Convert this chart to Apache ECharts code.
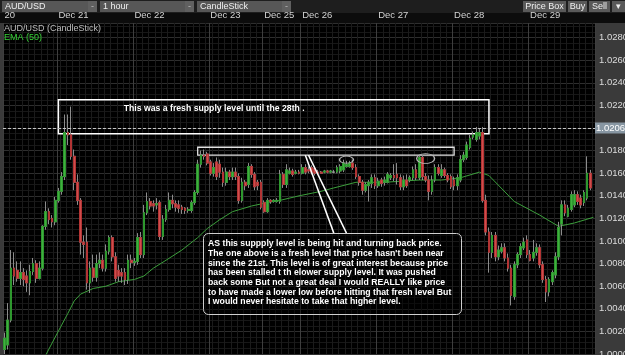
<!DOCTYPE html>
<html><head><meta charset="utf-8">
<script src="https://cdn.jsdelivr.net/npm/echarts/dist/echarts.min.js"></script>
<style>html,body{margin:0;padding:0;background:#3a3a3a;}#c{width:625px;height:355px;}</style>
</head><body><div id="c"></div>
<script>
// ---- categories (hourly candles, grouped by trading day) ----
const dayNames = ['20', 'Dec 21', 'Dec 22', 'Dec 23', 'Dec 25', 'Dec 26', 'Dec 27', 'Dec 28', 'Dec 29'];
const candlesPerDay = [17, 24, 24, 17, 12, 24, 24, 24, 21];

// ---- AUD/USD hourly OHLC ----
const opens = [
1.0004,1.0008,1.0030,1.0076,1.0074,1.0067,1.0072,1.0069,1.0063,1.0073,
1.0080,1.0067,1.0076,1.0113,1.0126,1.0120,1.0117,1.0136,1.0144,1.0157,
1.0196,1.0194,1.0175,1.0152,1.0136,1.0099,1.0099,1.0063,1.0076,1.0068,
1.0080,1.0083,1.0076,1.0091,1.0103,1.0086,1.0074,1.0072,1.0072,1.0066,
1.0083,1.0081,1.0082,1.0103,1.0088,1.0125,1.0135,1.0133,1.0132,1.0134,
1.0104,1.0119,1.0128,1.0136,1.0133,1.0132,1.0130,1.0129,1.0127,1.0127,
1.0134,1.0143,1.0168,1.0176,1.0177,1.0170,1.0160,1.0170,1.0168,1.0161,
1.0152,1.0161,1.0157,1.0161,1.0157,1.0136,1.0152,1.0150,1.0166,1.0159,
1.0152,1.0152,1.0134,1.0126,1.0136,1.0135,1.0135,1.0135,1.0159,1.0150,
1.0160,1.0162,1.0160,1.0161,1.0160,1.0165,1.0163,1.0165,1.0164,1.0161,
1.0161,1.0161,1.0162,1.0161,1.0161,1.0161,1.0162,1.0163,1.0166,1.0166,
1.0169,1.0165,1.0157,1.0152,1.0145,1.0149,1.0151,1.0156,1.0149,1.0154,
1.0152,1.0152,1.0156,1.0158,1.0159,1.0156,1.0148,1.0154,1.0154,1.0156,
1.0163,1.0156,1.0174,1.0157,1.0154,1.0144,1.0154,1.0165,1.0158,1.0163,
1.0158,1.0157,1.0154,1.0149,1.0154,1.0172,1.0174,1.0183,1.0192,1.0190,
1.0193,1.0196,1.0136,1.0108,1.0090,1.0105,1.0086,1.0091,1.0094,1.0085,
1.0076,1.0051,1.0079,1.0088,1.0094,1.0101,1.0088,1.0085,1.0090,1.0094,
1.0079,1.0066,1.0055,1.0064,1.0070,1.0086,1.0115,1.0132,1.0122,1.0128,
1.0132,1.0141,1.0138,1.0134,1.0138,1.0160];
const closes = [
1.0014,1.0030,1.0076,1.0069,1.0067,1.0072,1.0066,1.0063,1.0073,1.0080,
1.0067,1.0076,1.0113,1.0126,1.0119,1.0117,1.0136,1.0144,1.0157,1.0196,
1.0194,1.0175,1.0152,1.0136,1.0099,1.0097,1.0063,1.0076,1.0068,1.0080,
1.0083,1.0076,1.0091,1.0103,1.0086,1.0067,1.0069,1.0069,1.0066,1.0083,
1.0081,1.0082,1.0103,1.0088,1.0125,1.0135,1.0131,1.0131,1.0133,1.0104,
1.0119,1.0128,1.0136,1.0133,1.0130,1.0129,1.0128,1.0127,1.0128,1.0134,
1.0143,1.0168,1.0176,1.0175,1.0169,1.0160,1.0165,1.0157,1.0161,1.0152,
1.0161,1.0157,1.0161,1.0157,1.0136,1.0152,1.0149,1.0166,1.0159,1.0148,
1.0149,1.0130,1.0126,1.0136,1.0135,1.0136,1.0136,1.0159,1.0150,1.0163,
1.0162,1.0159,1.0161,1.0160,1.0165,1.0161,1.0162,1.0161,1.0160,1.0160,
1.0160,1.0162,1.0161,1.0162,1.0161,1.0165,1.0166,1.0169,1.0168,1.0169,
1.0165,1.0157,1.0152,1.0145,1.0150,1.0152,1.0156,1.0149,1.0153,1.0151,
1.0154,1.0159,1.0158,1.0156,1.0156,1.0148,1.0154,1.0149,1.0156,1.0163,
1.0156,1.0174,1.0157,1.0154,1.0144,1.0154,1.0165,1.0160,1.0163,1.0158,
1.0154,1.0148,1.0149,1.0156,1.0172,1.0176,1.0185,1.0191,1.0194,1.0196,
1.0196,1.0136,1.0108,1.0090,1.0105,1.0086,1.0092,1.0094,1.0085,1.0076,
1.0052,1.0079,1.0088,1.0095,1.0099,1.0088,1.0083,1.0090,1.0094,1.0079,
1.0066,1.0055,1.0066,1.0072,1.0086,1.0112,1.0132,1.0125,1.0129,1.0141,
1.0141,1.0135,1.0132,1.0143,1.0160,1.0147];
const lows = [
1.0000,1.0004,1.0028,1.0061,1.0064,1.0061,1.0060,1.0055,1.0052,1.0070,
1.0063,1.0066,1.0074,1.0110,1.0115,1.0112,1.0114,1.0134,1.0141,1.0154,
1.0185,1.0172,1.0145,1.0132,1.0088,1.0085,1.0057,1.0054,1.0064,1.0064,
1.0076,1.0073,1.0073,1.0088,1.0082,1.0064,1.0064,1.0063,1.0061,1.0062,
1.0076,1.0078,1.0079,1.0085,1.0085,1.0123,1.0128,1.0126,1.0128,1.0101,
1.0101,1.0117,1.0126,1.0129,1.0126,1.0125,1.0124,1.0124,1.0125,1.0125,
1.0132,1.0141,1.0165,1.0172,1.0167,1.0158,1.0157,1.0154,1.0156,1.0148,
1.0149,1.0154,1.0154,1.0154,1.0133,1.0134,1.0145,1.0147,1.0156,1.0145,
1.0145,1.0128,1.0125,1.0125,1.0133,1.0134,1.0134,1.0133,1.0147,1.0147,
1.0159,1.0157,1.0159,1.0159,1.0159,1.0159,1.0160,1.0159,1.0158,1.0159,
1.0160,1.0160,1.0160,1.0160,1.0160,1.0160,1.0160,1.0161,1.0165,1.0165,
1.0163,1.0155,1.0149,1.0141,1.0143,1.0135,1.0147,1.0146,1.0147,1.0148,
1.0149,1.0151,1.0154,1.0153,1.0150,1.0145,1.0145,1.0147,1.0152,1.0154,
1.0154,1.0154,1.0154,1.0152,1.0136,1.0141,1.0152,1.0158,1.0156,1.0156,
1.0152,1.0146,1.0145,1.0145,1.0152,1.0170,1.0172,1.0181,1.0190,1.0188,
1.0190,1.0134,1.0105,1.0072,1.0085,1.0082,1.0083,1.0089,1.0082,1.0073,
1.0043,1.0048,1.0076,1.0085,1.0092,1.0085,1.0082,1.0082,1.0087,1.0076,
1.0063,1.0046,1.0051,1.0061,1.0067,1.0083,1.0105,1.0122,1.0121,1.0126,
1.0130,1.0132,1.0129,1.0131,1.0136,1.0145];
const highs = [
1.0019,1.0045,1.0092,1.0090,1.0082,1.0082,1.0076,1.0074,1.0079,1.0085,
1.0083,1.0082,1.0114,1.0135,1.0129,1.0123,1.0139,1.0147,1.0161,1.0212,
1.0212,1.0219,1.0181,1.0159,1.0138,1.0105,1.0112,1.0082,1.0088,1.0088,
1.0090,1.0088,1.0097,1.0105,1.0105,1.0090,1.0079,1.0076,1.0076,1.0088,
1.0088,1.0085,1.0107,1.0108,1.0132,1.0143,1.0138,1.0136,1.0138,1.0136,
1.0123,1.0132,1.0143,1.0141,1.0136,1.0136,1.0132,1.0130,1.0130,1.0136,
1.0145,1.0172,1.0180,1.0181,1.0179,1.0172,1.0169,1.0174,1.0172,1.0165,
1.0165,1.0163,1.0165,1.0165,1.0160,1.0156,1.0154,1.0169,1.0168,1.0161,
1.0154,1.0154,1.0136,1.0138,1.0137,1.0137,1.0138,1.0163,1.0161,1.0168,
1.0165,1.0164,1.0163,1.0163,1.0168,1.0168,1.0166,1.0167,1.0166,1.0163,
1.0162,1.0163,1.0163,1.0163,1.0163,1.0167,1.0168,1.0172,1.0171,1.0171,
1.0172,1.0168,1.0159,1.0154,1.0152,1.0154,1.0159,1.0159,1.0156,1.0156,
1.0157,1.0161,1.0160,1.0168,1.0169,1.0159,1.0158,1.0159,1.0158,1.0166,
1.0168,1.0176,1.0176,1.0160,1.0158,1.0158,1.0168,1.0168,1.0168,1.0165,
1.0160,1.0159,1.0157,1.0159,1.0176,1.0179,1.0188,1.0194,1.0197,1.0201,
1.0200,1.0201,1.0141,1.0112,1.0108,1.0108,1.0096,1.0098,1.0098,1.0089,
1.0079,1.0082,1.0090,1.0098,1.0103,1.0105,1.0092,1.0101,1.0098,1.0097,
1.0082,1.0069,1.0068,1.0074,1.0090,1.0117,1.0136,1.0136,1.0132,1.0144,
1.0145,1.0144,1.0141,1.0145,1.0175,1.0163];

// ---- EMA(50) readings: candle index and value ----
const emaIndex = [13,16,20,22,24,28,32,36,41,44,47,51,56,61,64,68,72,78,83,87,93,100,104,111,120,131,138,144,150,153,161,169,175,180,186];
const emaValues = [0.9999,1.0015,1.0036,1.0047,1.0053,1.0058,1.0060,1.0064,1.0066,1.0069,1.0076,1.0083,1.0092,1.0103,1.0111,1.0119,1.0126,1.0131,1.0134,1.0136,1.0140,1.0144,1.0147,1.0152,1.0152,1.0154,1.0154,1.0156,1.0161,1.0158,1.0135,1.0123,1.0113,1.0116,1.0121];

// ---- price axis ticks ----
const priceMin = 1.0000, priceMax = 1.0293, priceStep = 0.002;
const lastPrice = 1.0206;

// ---- annotations (in data coordinates: candle index, price) ----
const freshZone = {from: [17, 1.0225], to: [153, 1.0195]};
const lowerZone = {from: [61, 1.0183], to: [142, 1.0176]};
const touches = [[108, 1.0172], [133, 1.0173]];
const pointerLines = [[[95, 1.0176], [104, 1.0107]], [[96, 1.0176], [108, 1.0107]]];
const freshNote = 'This was a fresh supply level until the 28th .';
const calloutLines = [
 'AS this suppply level is being hit and turning back price.',
 "The one above is a fresh level that price hasn't been near",
 'since the 21st. This level is of great interest because price',
 'has been stalled t th elower supply level. It was pushed',
 'back some But not a great deal I would REALLY like price',
 'to have made a lower low before hitting that fresh level But',
 'I would never hesitate to take that higher level.'
];

// ---- build ----
const categories = [];
dayNames.forEach((d, di) => { for (let k = 0; k < candlesPerDay[di]; k++) categories.push(d + '|' + k); });
const isDayStart = v => /\|0$/.test(v);
const wickData = opens.map((o, i) => [o, closes[i], lows[i], highs[i]]);
const bodyData = opens.map((o, i) => [o, closes[i], Math.min(o, closes[i]), Math.max(o, closes[i])]);
const emaData = emaIndex.map((k, i) => [k, emaValues[i]]);

const FONT = '"Liberation Sans", Arial, sans-serif';
const chart = echarts.init(document.getElementById('c'), null, {renderer: 'canvas'});

function dropdown(x, w, label) {
  return [
    {type: 'rect', shape: {x: x, y: 1, width: w, height: 11}, style: {fill: '#575757'}, z: 10},
    {type: 'rect', shape: {x: x + w - 9, y: 1, width: 9, height: 11}, style: {fill: '#606060'}, z: 11},
    {type: 'text', x: x + 3, y: 6.5, style: {text: label, fill: '#f0f0f0', font: '9px ' + FONT, verticalAlign: 'middle'}, z: 12},
    {type: 'text', x: x + w - 4.5, y: 6.5, style: {text: '-', fill: '#bbb', font: '9px ' + FONT, align: 'center', verticalAlign: 'middle'}, z: 12}
  ];
}
function button(x, w, label) {
  return [
    {type: 'rect', shape: {x: x, y: 1, width: w, height: 11}, style: {fill: '#5a5a5a'}, z: 10},
    {type: 'text', x: x + w / 2, y: 6.5, style: {text: label, fill: '#f0f0f0', font: '9px ' + FONT, align: 'center', verticalAlign: 'middle'}, z: 12}
  ];
}

const graphic = [
  {type: 'rect', shape: {x: 0, y: 0, width: 625, height: 13}, style: {fill: '#1e1e1e'}, z: -10},
  {type: 'rect', shape: {x: 0, y: 13, width: 625, height: 10}, style: {fill: '#0c0c0c'}, z: -10},
  ...dropdown(2, 95, 'AUD/USD'),
  ...dropdown(100, 94, '1 hour'),
  ...dropdown(197, 94, 'CandleStick'),
  ...button(523, 43, 'Price Box'),
  ...button(568, 19, 'Buy'),
  ...button(589, 21, 'Sell'),
  ...button(612, 13, '\u25BE'),
  {type: 'text', x: 4, y: 24, style: {text: 'AUD/USD (CandleStick)', fill: '#bdbdbd', font: '9px ' + FONT, verticalAlign: 'top'}, z: 100},
  {type: 'text', x: 4, y: 33, style: {text: 'EMA (50)', fill: '#36d336', font: '9px ' + FONT, verticalAlign: 'top'}, z: 100},
  {type: 'rect', shape: {x: 203.5, y: 233.5, width: 258, height: 81, r: 5}, style: {fill: 'rgba(0,0,0,0.45)', stroke: '#cfcfcf', lineWidth: 1}, z: 100},
  {type: 'text', x: 208, y: 239, style: {text: calloutLines.join('\n'), fill: '#ffffff', font: 'bold 8.7px ' + FONT, lineHeight: 9.7, verticalAlign: 'top'}, z: 101}
];

const option = {
  animation: false,
  backgroundColor: '#3a3a3a',
  textStyle: {fontFamily: FONT},
  grid: {left: 3, right: 30, top: 23, bottom: 1, show: true, backgroundColor: '#000', borderWidth: 0, containLabel: false, outerBoundsMode: 'none'},
  xAxis: [
    {type: 'category', data: categories, boundaryGap: true, position: 'bottom', z: 0,
     axisLine: {show: false}, axisTick: {show: false}, axisLabel: {show: false},
     splitLine: {show: true, interval: 1, lineStyle: {color: '#1b1b1b', width: 1}}},
    {type: 'category', data: categories, boundaryGap: true, position: 'top', z: 1,
     axisLine: {show: false}, axisTick: {show: false},
     axisLabel: {interval: (i, v) => isDayStart(v), formatter: v => v.split('|')[0], color: '#d4d4d4', fontSize: 9.5, align: 'left', margin: 3},
     splitLine: {show: true, interval: (i, v) => isDayStart(v), lineStyle: {color: '#3e3e3e', width: 1}}}
  ],
  yAxis: {type: 'value', position: 'right', min: priceMin, max: priceMax, interval: priceStep,
    axisLine: {show: false}, axisTick: {show: false},
    axisLabel: {color: '#dcdcdc', fontSize: 9.5, margin: 4, showMaxLabel: false, formatter: v => v.toFixed(4)},
    splitLine: {show: true, lineStyle: {color: '#2e2e2e'}},
    minorTick: {show: false, splitNumber: 4},
    minorSplitLine: {show: true, lineStyle: {color: '#171717'}}},
  series: [
    {type: 'line', xAxisIndex: 1, data: emaData, symbol: 'none', z: 1,
     lineStyle: {color: '#3c9f3c', width: 1}},
    {type: 'candlestick', xAxisIndex: 1, data: wickData, barWidth: '70%', z: 2,
     itemStyle: {color: '#8c8c8c', color0: '#8c8c8c', borderColor: '#8c8c8c', borderColor0: '#8c8c8c', borderColorDoji: '#8c8c8c', borderWidth: 1}},
    {type: 'candlestick', xAxisIndex: 1, data: bodyData, barWidth: '70%', z: 3,
     itemStyle: {color: '#3fb03f', color0: '#cf4d4d', borderColor: '#2e982e', borderColor0: '#b33434', borderColorDoji: '#9a9a9a', borderWidth: 1},
     markArea: {silent: true, label: {show: false},
       itemStyle: {color: 'rgba(0,0,0,0)', borderColor: '#ffffff', borderWidth: 1.5},
       data: [
         [{name: freshNote, coord: freshZone.from,
           label: {show: true, position: [66, 5.5], formatter: '{b}', color: '#ffffff', fontWeight: 'bold', fontSize: 8.7, fontFamily: FONT}},
          {coord: freshZone.to}],
         [{coord: lowerZone.from, itemStyle: {borderColor: '#e2e2e2', borderWidth: 1.3}}, {coord: lowerZone.to}]
       ]},
     markLine: {silent: true, symbol: ['none', 'none'], label: {show: false},
       lineStyle: {color: '#ffffff', width: 1.5, type: 'solid'},
       data: [
         {yAxis: lastPrice, lineStyle: {color: '#c4c4c4', type: [3, 2], width: 1},
          label: {show: true, position: 'end', formatter: lastPrice.toFixed(4), color: '#ffffff', backgroundColor: '#8796a2', padding: [1, 2, 0, 1], fontSize: 9.5, distance: 0}},
         ...pointerLines.map(p => [{coord: p[0]}, {coord: p[1]}])
       ]},
     markPoint: {silent: true, symbol: 'circle', label: {show: false},
       itemStyle: {color: 'rgba(0,0,0,0)', borderColor: '#b8b8b8', borderWidth: 1},
       data: [
         {coord: touches[0], symbolSize: [14, 7]},
         {coord: touches[1], symbolSize: [18, 10]}
       ]}
    }
  ],
  graphic: graphic
};
chart.setOption(option);
</script></body></html>
